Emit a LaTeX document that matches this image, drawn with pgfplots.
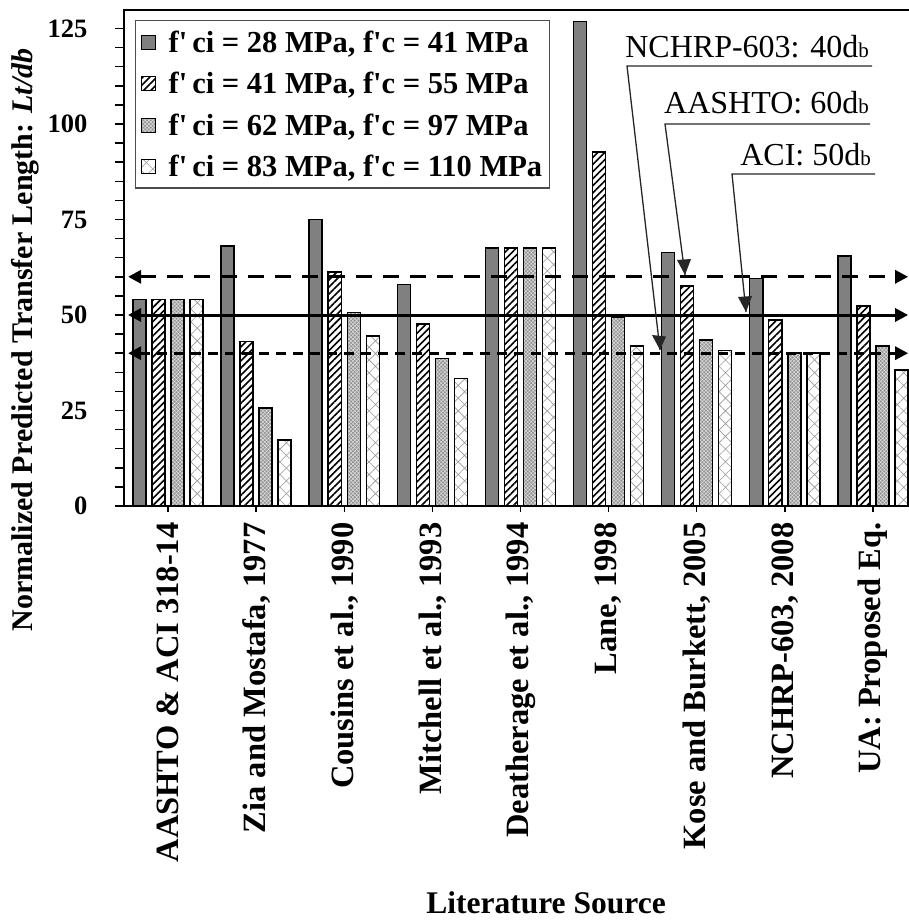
\documentclass[border=0pt]{standalone}
\usepackage{pgfplots}
\pgfplotsset{compat=1.18}
\usepackage{pgfplotstable}
\usepackage{fontspec}
\setmainfont{Liberation Serif}
\usetikzlibrary{patterns,patterns.meta,arrows.meta}

% Normalized transfer length L_t/d_b for four concrete strength pairs
\pgfplotstableread{
grp  a      b     c     d
0    54.0   54.0  54.0  54.0
1    68.0   43.0  25.6  17.3
2    75.0   61.3  50.7  44.5
3    58.0   47.6  38.6  33.4
4    67.5   67.5  67.5  67.5
5    126.8  92.7  49.4  41.9
6    66.4   57.6  43.5  40.7
7    59.6   48.7  40.0  40.0
8    65.4   52.4  41.9  35.6
}\transfer

\newcommand\lgfont{\fontsize{30.5}{30.5}\selectfont\bfseries}
\newcommand\anfont{\fontsize{32}{32}\selectfont}
\newcommand\smallb{\fontsize{21}{21}\selectfont b}

\begin{document}
\begin{tikzpicture}
\begin{axis}[
  at={(0pt,0pt)}, anchor=south west,
  scale only axis, width=785pt, height=496.6pt,
  xmin=-0.5, xmax=8.41, ymin=0, ymax=130,
  axis x line*=bottom, axis y line*=left,
  axis line style={line width=2.5pt},
  ytick={0,25,...,125},
  minor y tick num=4,
  tick align=outside,
  major tick length=9pt, minor tick length=9pt,
  tick style={line width=1.5pt, black},
  xtick style={/pgfplots/major tick length=6pt},
  /pgf/number format/assume math mode=true,
  yticklabel style={font=\fontsize{26.5}{26.5}\selectfont\bfseries, xshift=-24pt},
  xtick={0,...,8},
  xticklabels={AASHTO \& ACI 318-14, {Zia and Mostafa, 1977}, {Cousins et al., 1990},
    {Mitchell et al., 1993}, {Deatherage et al., 1994}, {Lane, 1998},
    {Kose and Burkett, 2005}, {NCHRP-603, 2008}, UA: Proposed Eq.},
  xticklabel style={rotate=90, anchor=east, font=\fontsize{32.5}{32.5}\selectfont\bfseries, xshift=-4pt},
  legend image code/.code={\draw[#1, line width=1pt] (0pt,-7pt) rectangle (14pt,7pt);},
  legend cell align=left,
  legend style={at={(0.014,0.9787)}, anchor=north west, draw=black!70, line width=1.2pt,
    font=\lgfont, row sep=12.5pt, column sep=11pt, inner xsep=5pt, inner ysep=7pt,
    nodes={inner xsep=2pt, inner ysep=3pt}},
]
\addplot[ybar, bar width=0.148, bar shift=-0.324, draw=black, line width=1.5pt, fill=gray]
  table[x=grp, y=a] {\transfer};
\addlegendentry{f\textquotesingle\,ci = 28 MPa, f\textquotesingle c = 41 MPa}
\addplot[ybar, bar width=0.148, bar shift=-0.108, draw=black, line width=1.5pt, fill=white,
  postaction={pattern={Lines[angle=45, distance=5pt, line width=1.6pt]}, pattern color=black}]
  table[x=grp, y=b] {\transfer};
\addlegendentry{f\textquotesingle\,ci = 41 MPa, f\textquotesingle c = 55 MPa}
\addplot[ybar, bar width=0.148, bar shift=0.108, draw=black, line width=1.5pt, fill=gray!85,
  postaction={pattern={Hatch[angle=45, distance=2.6pt, line width=0.5pt]}, pattern color=white!75!gray}]
  table[x=grp, y=c] {\transfer};
\addlegendentry{f\textquotesingle\,ci = 62 MPa, f\textquotesingle c = 97 MPa}
\addplot[ybar, bar width=0.148, bar shift=0.324, draw=black, line width=1.5pt, fill=white,
  postaction={pattern={Hatch[angle=45, distance=9pt, line width=0.6pt]}, pattern color=gray!80}]
  table[x=grp, y=d] {\transfer};
\addlegendentry{f\textquotesingle\,ci = 83 MPa, f\textquotesingle c = 110 MPa}

% code limits: AASHTO 60db, ACI 50db, NCHRP-603 40db
\addplot[line width=3pt, dash pattern=on 16pt off 11pt,
  {Triangle[length=13pt,width=13pt]}-{Triangle[length=13pt,width=13pt]}, forget plot]
  coordinates {(-0.454,60) (8.40,60)};
\addplot[line width=3pt,
  {Triangle[length=13pt,width=13pt]}-{Triangle[length=13pt,width=13pt]}, forget plot]
  coordinates {(-0.454,50) (8.40,50)};
\addplot[line width=3pt, dash pattern=on 10pt off 7pt,
  {Triangle[length=13pt,width=13pt]}-{Triangle[length=13pt,width=13pt]}, forget plot]
  coordinates {(-0.454,40) (8.40,40)};

\draw[line width=2.5pt] (axis description cs:0,1) -- (axis description cs:1,1);
\end{axis}

% callouts
\begin{scope}[line width=1.3pt, black!85]
  \draw (748pt,440pt) -- (503pt,440pt) -- (536pt,156pt);
  \fill (536pt,156pt) -- ++(-8pt,15pt) -- ++(14pt,-1.5pt) -- cycle;
  \draw (746pt,382pt) -- (541pt,382pt) -- (561pt,231pt);
  \fill (561pt,231pt) -- ++(-8pt,15pt) -- ++(14pt,1pt) -- cycle;
  \draw (751pt,332pt) -- (608pt,332pt) -- (622pt,194pt);
  \fill (622pt,194pt) -- ++(-8pt,15pt) -- ++(14pt,1pt) -- cycle;
\end{scope}
\node[anchor=base east, inner sep=0pt, font=\anfont] at (745pt,448pt) {NCHRP-603: 40d\smallb};
\node[anchor=base east, inner sep=0pt, font=\anfont] at (745pt,392pt) {AASHTO: 60d\smallb};
\node[anchor=base east, inner sep=0pt, font=\anfont] at (747pt,340pt) {ACI: 50d\smallb};

% axis titles
\node[anchor=base, inner sep=0pt, font=\fontsize{31.5}{31.5}\selectfont\bfseries] at (422pt,-407pt) {Literature Source};
\node[rotate=90, font=\fontsize{30}{30}\selectfont\bfseries] at (-99pt,166pt)
  {Normalized Predicted Transfer Length: \textit{Lt/db}};

\pgfresetboundingbox
\path (-124pt,-414pt) rectangle (785pt,506pt);
\end{tikzpicture}
\end{document}
